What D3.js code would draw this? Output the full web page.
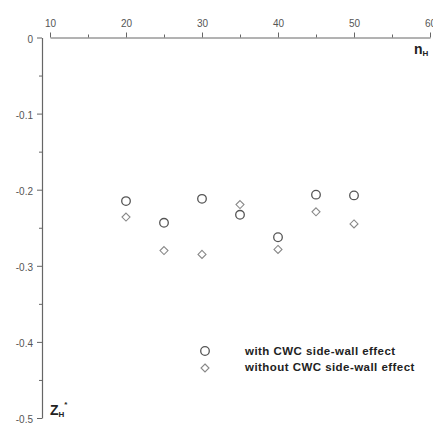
<!DOCTYPE html>
<html><head><meta charset="utf-8">
<script src="https://cdn.jsdelivr.net/npm/d3@7/dist/d3.min.js"></script>
<style>body{margin:0;background:#fff}svg{display:block}</style>
</head><body>
<script>
const nH = [20, 25, 30, 35, 40, 45, 50];
const withCWC = [-0.215, -0.2435, -0.212, -0.233, -0.2625, -0.2065, -0.2075];
const withoutCWC = [-0.236, -0.280, -0.285, -0.2195, -0.2785, -0.229, -0.245];
const xTicks = [10, 20, 30, 40, 50, 60];
const yTicks = [0, -0.1, -0.2, -0.3, -0.4, -0.5];
const legendLabels = ["with CWC side-wall effect", "without CWC side-wall effect"];

const W = 433, H = 427;
const svg = d3.select("body").append("svg").attr("width", W).attr("height", H);
const x = d3.scaleLinear().domain([10, 60]).range([50, 430]);
const y = d3.scaleLinear().domain([0, -0.5]).range([37.5, 418]);
const axisColor = "#666", txtColor = "#555";
const font = "Liberation Sans, Arial, sans-serif";

// top x axis
const gx = svg.append("g").attr("transform", "translate(0,37.5)");
gx.call(d3.axisTop(x).tickValues(xTicks).tickSize(5).tickSizeOuter(0).tickPadding(6).tickFormat(d3.format("d")));
gx.append("g").call(d3.axisTop(x).tickValues([15,25,35,45,55]).tickSize(3).tickFormat(""));
gx.selectAll(".domain").attr("stroke", axisColor);
gx.selectAll("g.tick line").attr("stroke", axisColor);
gx.selectAll("text").attr("fill", txtColor).style("font-family", font).style("font-size", "10px");
gx.selectAll("g g .domain").remove();

// left y axis
const gy = svg.append("g").attr("transform", "translate(42,0)");
gy.call(d3.axisLeft(y).tickValues(yTicks).tickSize(5).tickSizeOuter(0).tickPadding(4)
  .tickFormat(d => d === 0 ? "0" : "-" + Math.abs(d).toFixed(1)));
gy.append("g").call(d3.axisLeft(y).tickValues([-0.05,-0.15,-0.25,-0.35,-0.45]).tickSize(3).tickFormat(""));
gy.selectAll(".domain").attr("stroke", axisColor).attr("stroke-width", 1.2);
gy.selectAll("g g .domain").remove();
gy.selectAll("g.tick line").attr("stroke", axisColor);
gy.selectAll("text").attr("fill", txtColor).style("font-family", font).style("font-size", "10px").attr("dy", "0.45em");

// axis titles
const nt = svg.append("text").attr("x", 414).attr("y", 54).style("font-family", font).style("font-size", "14px").style("font-weight", "bold").attr("fill", "#222");
nt.append("tspan").text("n");
nt.append("tspan").attr("dy", 2).style("font-size", "8px").text("H");
const zt = svg.append("text").attr("x", 50).attr("y", 415).style("font-family", font).style("font-size", "14px").style("font-weight", "bold").attr("fill", "#222");
zt.append("tspan").text("Z");
zt.append("tspan").attr("dy", 2).style("font-size", "8px").text("H");
zt.append("tspan").attr("dy", -10).style("font-size", "8px").text("*");

const diamond = s => `M0,${-s}L${s},0L0,${s}L${-s},0Z`;

// data
svg.append("g").selectAll("path").data(nH).join("path")
  .attr("d", diamond(4))
  .attr("transform", (d, i) => `translate(${x(d)},${y(withoutCWC[i])})`)
  .attr("fill", "none").attr("stroke", "#888").attr("stroke-width", 1.1);
svg.append("g").selectAll("circle").data(nH).join("circle")
  .attr("cx", d => x(d)).attr("cy", (d, i) => y(withCWC[i])).attr("r", 4.3)
  .attr("fill", "none").attr("stroke", "#555").attr("stroke-width", 1.3);

// legend
svg.append("circle").attr("cx", 205).attr("cy", 351).attr("r", 4.3).attr("fill", "none").attr("stroke", "#555").attr("stroke-width", 1.3);
svg.append("path").attr("d", diamond(4)).attr("transform", "translate(205,368)").attr("fill", "none").attr("stroke", "#888").attr("stroke-width", 1.1);
legendLabels.forEach((t, i) => {
  svg.append("text").attr("x", 245).attr("y", 355 + i * 16).text(t)
    .style("font-family", font).style("font-size", "11.5px").style("font-weight", "bold")
    .style("letter-spacing", "0.45px").attr("fill", "#222");
});
</script>
</body></html>
